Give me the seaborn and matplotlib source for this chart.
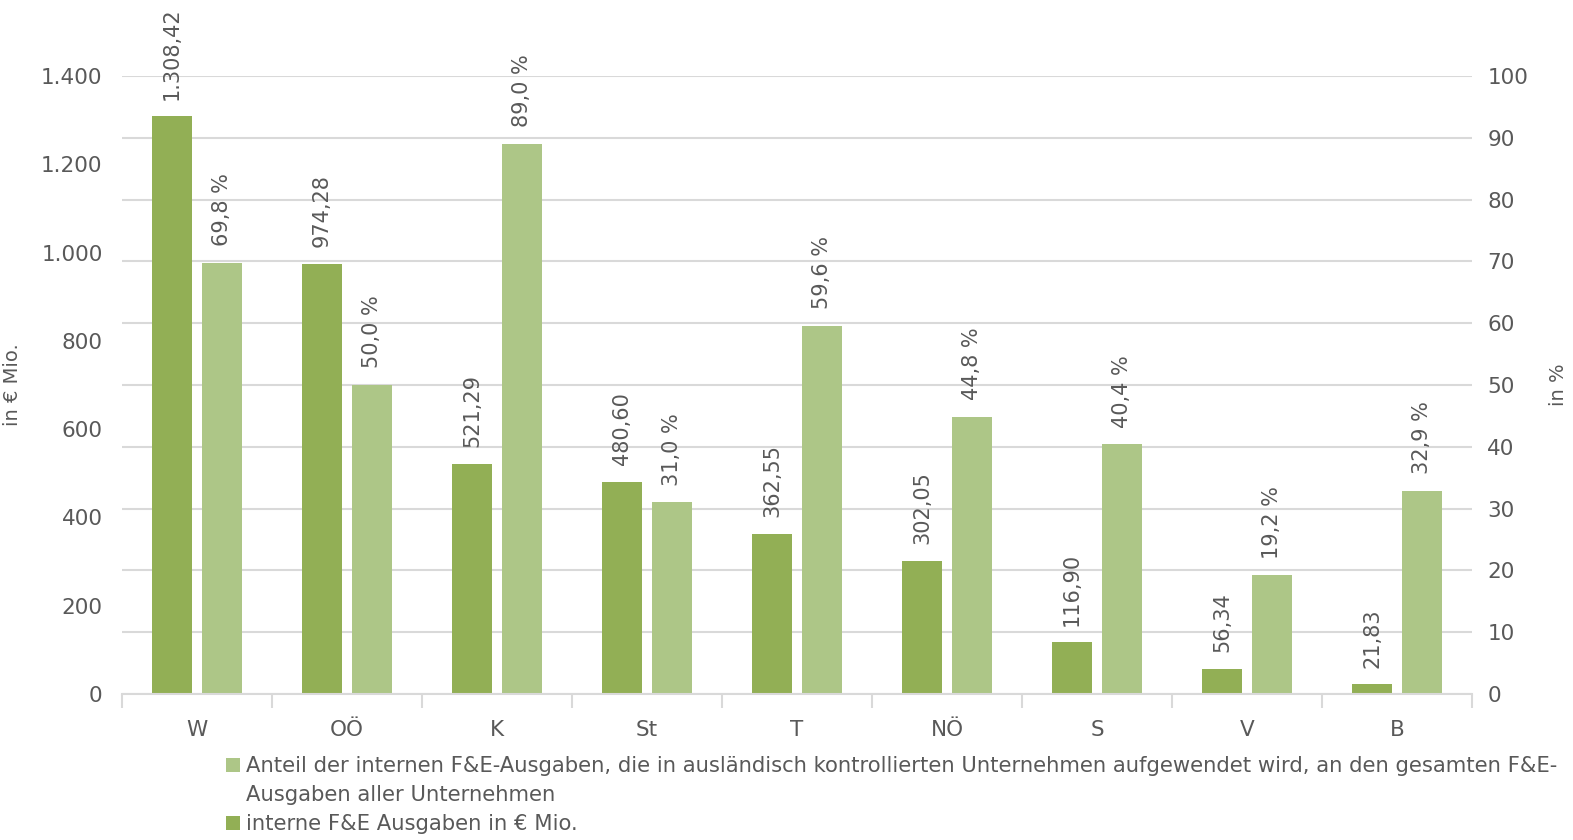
import matplotlib
matplotlib.use("Agg")
import matplotlib.pyplot as plt
import numpy as np
import pandas as pd
import seaborn as sns
from matplotlib.patches import Patch

regions = ["W", "OÖ", "K", "St", "T", "NÖ", "S", "V", "B"]
ausgaben_mio = [1308.42, 974.28, 521.29, 480.60, 362.55, 302.05, 116.90, 56.34, 21.83]
anteil_pct = [69.8, 50.0, 89.0, 31.0, 59.6, 44.8, 40.4, 19.2, 32.9]

mio_labels = ["1.308,42", "974,28", "521,29", "480,60", "362,55", "302,05", "116,90", "56,34", "21,83"]
pct_labels = ["69,8 %", "50,0 %", "89,0 %", "31,0 %", "59,6 %", "44,8 %", "40,4 %", "19,2 %", "32,9 %"]

# legend entry for the share is wrapped over two lines like in the original
leg_anteil_1 = "Anteil der internen F&E-Ausgaben, die in ausländisch kontrollierten Unternehmen aufgewendet wird, an den gesamten F&E-"
leg_anteil_2 = "Ausgaben aller Unternehmen"
leg_mio = "interne F&E Ausgaben in € Mio."

DARK = "#92AF55"
LIGHT = "#ADC687"
GRID = "#D9D9D9"
TEXT = "#595959"

sns.set_theme(style="white")
plt.rcParams["font.family"] = ["DejaVu Sans"]
plt.rcParams["text.color"] = TEXT

n = len(regions)
df = pd.DataFrame({
    "region": regions * 2,
    "series": ["mio"] * n + ["pct"] * n,
    "mio": ausgaben_mio + [np.nan] * n,
    "pct": [np.nan] * n + anteil_pct,
})
hue_order = ["mio", "pct"]
palette = {"mio": DARK, "pct": LIGHT}

fig = plt.figure(figsize=(15.73, 8.4), dpi=100)
ax = fig.add_axes([0.0776, 0.1738, 0.8582, 0.7357])
ax2 = ax.twinx()

sns.barplot(data=df, x="region", y="mio", hue="series", hue_order=hue_order, palette=palette,
            order=regions, width=0.667, gap=0.19, linewidth=0, saturation=1, errorbar=None,
            legend=False, ax=ax)
sns.barplot(data=df, x="region", y="pct", hue="series", hue_order=hue_order, palette=palette,
            order=regions, width=0.667, gap=0.19, linewidth=0, saturation=1, errorbar=None,
            legend=False, ax=ax2)

ax.set_ylim(0, 1400)
ax2.set_ylim(0, 100)
ax.set_xlim(-0.5, n - 0.5)
ax.set_yticks(np.arange(0, 1401, 200))
ax.set_yticklabels([f"{v:,}".replace(",", ".") for v in range(0, 1401, 200)])
ax2.set_yticks(np.arange(0, 101, 10))

ax.grid(False)
ax2.yaxis.grid(True, color=GRID, linewidth=1.5)
ax2.xaxis.grid(False)
ax.set_zorder(ax2.get_zorder() + 1)
ax.patch.set_visible(False)

for c in ax.containers:
    heights = [p.get_height() for p in c.patches]
    if len(c.patches) == n and not np.isnan(heights).any() and np.allclose(heights, ausgaben_mio):
        ax.bar_label(c, labels=mio_labels, rotation=90, padding=12, fontsize=15, color=TEXT)
for c in ax2.containers:
    heights = [p.get_height() for p in c.patches]
    if len(c.patches) == n and not np.isnan(heights).any() and np.allclose(heights, anteil_pct):
        ax2.bar_label(c, labels=pct_labels, rotation=90, padding=12, fontsize=15, color=TEXT)

for a in (ax, ax2):
    for s in ["top", "left", "right", "bottom"]:
        a.spines[s].set_visible(False)
ax.spines["bottom"].set_visible(True)
ax.spines["bottom"].set_color(GRID)
ax.spines["bottom"].set_linewidth(1.5)

ax.set_xticks(np.arange(-0.5, n, 1.0), minor=True)
ax.tick_params(axis="x", which="minor", length=10, width=1.5, color=GRID, bottom=True)
ax.tick_params(axis="x", which="major", length=0, pad=19, labelsize=15.5, labelcolor=TEXT)
ax.tick_params(axis="y", length=0, pad=14, labelsize=15.5, labelcolor=TEXT)
ax2.tick_params(axis="y", length=0, pad=11, labelsize=15.5, labelcolor=TEXT)

ax.set_xlabel("")
ax.set_ylabel("in € Mio.", fontsize=14, color=TEXT)
ax2.set_ylabel("in %", fontsize=14, color=TEXT)
ax.yaxis.set_label_coords(-0.074, 0.5)
ax2.yaxis.set_label_coords(1.057, 0.5)

handles = [Patch(facecolor=LIGHT, edgecolor="none"),
           Patch(facecolor="none", edgecolor="none"),
           Patch(facecolor=DARK, edgecolor="none")]
fig.legend(handles, [leg_anteil_1, leg_anteil_2, leg_mio], loc="upper left",
           bbox_to_anchor=(0.137, 0.112), frameon=False, fontsize=15.2,
           handlelength=0.65, handleheight=0.65, handletextpad=0.3,
           labelspacing=0.42, borderpad=0, labelcolor=TEXT)

fig.savefig("out.png", dpi=100)
